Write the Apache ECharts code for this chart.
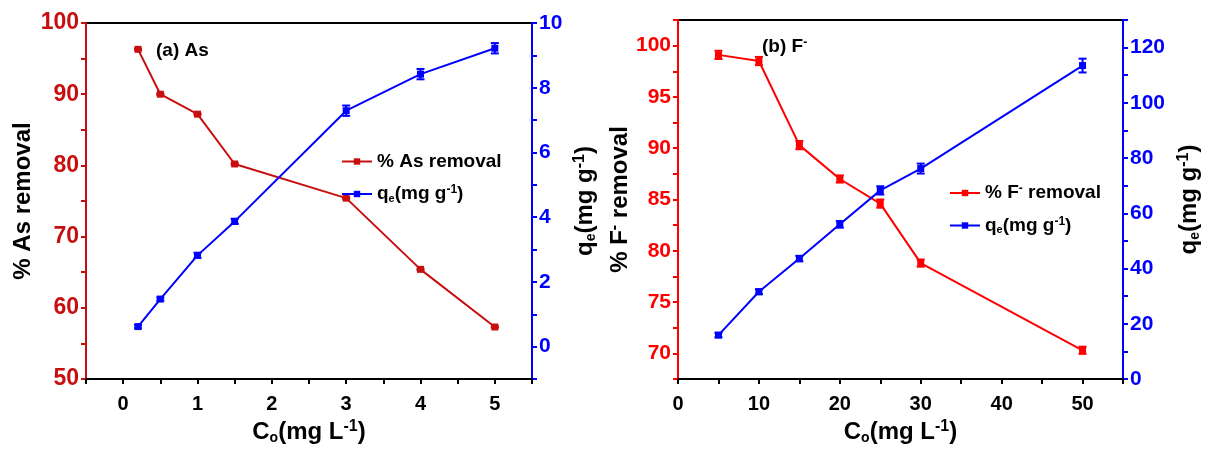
<!DOCTYPE html>
<html>
<head>
<meta charset="utf-8">
<script src="https://cdn.jsdelivr.net/npm/echarts@6/dist/echarts.min.js"></script>
<style>
html, body { margin: 0; padding: 0; background: #fff; }
#chart { width: 1210px; height: 450px; }
</style>
</head>
<body>
<div id="chart"></div>
<script>
// panel (a) As
var as_conc = [0.2, 0.5, 1, 1.5, 3, 4, 5];
var as_removal = [96.3, 90.0, 87.2, 80.2, 75.4, 65.4, 57.3];
var as_removal_err = [0.1, 0.1, 0.1, 0.1, 0.1, 0.1, 0.1];
var as_qe = [0.62, 1.47, 2.82, 3.87, 7.29, 8.42, 9.22];
var as_qe_err = [0.05, 0.05, 0.08, 0.08, 0.16, 0.16, 0.16];

// panel (b) F-
var f_conc = [5, 10, 15, 20, 25, 30, 50];
var f_removal = [99.1, 98.5, 90.3, 87.0, 84.6, 78.8, 70.3];
var f_removal_err = [0.4, 0.4, 0.4, 0.35, 0.4, 0.35, 0.35];
var f_qe = [15.9, 31.6, 43.6, 56.0, 68.3, 76.2, 113.5];
var f_qe_err = [0.8, 0.9, 1.0, 1.2, 1.5, 1.8, 2.5];

var FONT = 'Liberation Sans, Arial, sans-serif';
var DARKRED = '#c80f0f', RED = '#ff0000', BLUE = '#0000ff';

function make_rich(size){
    return {
        sub: { fontSize: Math.round(size * 0.6), fontWeight: 'bold', fontFamily: FONT, verticalAlign: 'bottom', padding: [Math.round(size * 0.4), 0, 0, 0] },
        sup: { fontSize: Math.round(size * 0.65), fontWeight: 'bold', fontFamily: FONT, verticalAlign: 'top', padding: [0, 0, Math.round(size * 0.4), 0] }
    };
}

function pairs(xs, ys){
    return xs.map(function(x, i){ return [x, ys[i]]; });
}
function triples(xs, ys, es){
    return xs.map(function(x, i){ return [x, ys[i], es[i]]; });
}
function stepLabel(step){
    return function(v){
        var r = v / step;
        return Math.abs(r - Math.round(r)) < 1e-6 ? String(Math.round(v * 100) / 100) : '';
    };
}

function line_series(name, xs, ys, xi, yi, color){
    return {
        name: name, type: 'line', xAxisIndex: xi, yAxisIndex: yi,
        data: pairs(xs, ys), symbol: 'rect', symbolSize: 7,
        lineStyle: { color: color, width: 2 }, itemStyle: { color: color },
        z: 2
    };
}
function err_series(xs, ys, es, xi, yi, color){
    return {
        type: 'custom', xAxisIndex: xi, yAxisIndex: yi, z: 3,
        data: triples(xs, ys, es), encode: { x: 0, y: 1 },
        renderItem: function(params, api){
            var x = api.value(0), y = api.value(1), e = api.value(2);
            var hi = api.coord([x, y + e]), lo = api.coord([x, y - e]);
            var w = 4, st = { stroke: color, lineWidth: 2 };
            return { type: 'group', children: [
                { type: 'line', shape: { x1: hi[0], y1: hi[1], x2: lo[0], y2: lo[1] }, style: st },
                { type: 'line', shape: { x1: hi[0] - w, y1: hi[1], x2: hi[0] + w, y2: hi[1] }, style: st },
                { type: 'line', shape: { x1: lo[0] - w, y1: lo[1], x2: lo[0] + w, y2: lo[1] }, style: st }
            ]};
        }
    };
}

function x_axis(gi, min, max, interval, step){
    return {
        type: 'value', gridIndex: gi, min: min, max: max, interval: interval,
        name: 'C{sub|o}(mg L{sup|-1})', nameLocation: 'middle', nameGap: 40,
        nameTextStyle: { fontFamily: FONT, fontWeight: 'bold', fontSize: 24, color: '#000', rich: make_rich(24) },
        axisLine: { onZero: false, lineStyle: { color: '#000', width: 2 } },
        axisTick: { show: true, length: 5, lineStyle: { color: '#000', width: 2 } },
        axisLabel: { fontFamily: FONT, fontWeight: 'bold', fontSize: 20, color: '#000', margin: 15, formatter: stepLabel(step) },
        splitLine: { show: false }
    };
}
function y_axis(gi, pos, min, max, interval, step, color, name, gap, tsize){
    return {
        type: 'value', gridIndex: gi, position: pos, min: min, max: max, interval: interval,
        name: name, nameLocation: 'middle', nameGap: gap, nameRotate: 90,
        nameTextStyle: { fontFamily: FONT, fontWeight: 'bold', fontSize: 24, color: '#000', rich: make_rich(24) },
        axisLine: { show: true, onZero: false, lineStyle: { color: color, width: 2 } },
        axisTick: { show: true, length: 5, lineStyle: { color: color, width: 2 } },
        axisLabel: { fontFamily: FONT, fontWeight: 'bold', fontSize: tsize, color: color, margin: 7, formatter: stepLabel(step) },
        splitLine: { show: false }
    };
}

var legend_names = {
    'As_rem': '% As removal',
    'As_qe': 'q{sub|e}(mg g{sup|-1})',
    'F_rem': '% F{sup|-} removal',
    'F_qe': 'q{sub|e}(mg g{sup|-1})'
};
function legend_box(names, left, top){
    return {
        data: names, orient: 'vertical', left: left, top: top,
        itemWidth: 30, itemHeight: 8, itemGap: 13,
        formatter: function(n){ return legend_names[n]; },
        textStyle: { fontFamily: FONT, fontWeight: 'bold', fontSize: 19, color: '#000', rich: make_rich(19) }
    };
}

var chart = echarts.init(document.getElementById('chart'));
chart.setOption({
    animation: false,
    backgroundColor: '#fff',
    title: [
        { text: '(a) As', left: 151, top: 36, textStyle: { fontFamily: FONT, fontWeight: 'bold', fontSize: 19, color: '#000' } },
        { text: '(b) F{sup|-}', left: 757, top: 32, textStyle: { fontFamily: FONT, fontWeight: 'bold', fontSize: 19, color: '#000', rich: make_rich(19) } }
    ],
    legend: [
        legend_box(['As_rem', 'As_qe'], 336, 147),
        legend_box(['F_rem', 'F_qe'], 944, 178)
    ],
    grid: [
        { left: 86, top: 23, right: 678, bottom: 67, show: true, borderColor: '#000', borderWidth: 2, backgroundColor: 'transparent' },
        { left: 678, top: 20, right: 87, bottom: 71, show: true, borderColor: '#000', borderWidth: 2, backgroundColor: 'transparent' }
    ],
    xAxis: [
        x_axis(0, -0.5, 5.5, 0.5, 1),
        x_axis(1, 0, 55, 5, 10)
    ],
    yAxis: [
        y_axis(0, 'left', 50, 100, 5, 10, DARKRED, '% As removal', 51, 23),
        y_axis(0, 'right', -1, 10, 1, 2, BLUE, 'q{sub|e}(mg g{sup|-1})', 40, 21),
        y_axis(1, 'left', 67.5, 102.5, 2.5, 5, RED, '% F{sup|-} removal', 43, 21),
        y_axis(1, 'right', 0, 130, 10, 20, BLUE, 'q{sub|e}(mg g{sup|-1})', 53, 21)
    ],
    series: [
        line_series('As_rem', as_conc, as_removal, 0, 0, DARKRED),
        line_series('As_qe', as_conc, as_qe, 0, 1, BLUE),
        err_series(as_conc, as_removal, as_removal_err, 0, 0, DARKRED),
        err_series(as_conc, as_qe, as_qe_err, 0, 1, BLUE),
        line_series('F_rem', f_conc, f_removal, 1, 2, RED),
        line_series('F_qe', f_conc, f_qe, 1, 3, BLUE),
        err_series(f_conc, f_removal, f_removal_err, 1, 2, RED),
        err_series(f_conc, f_qe, f_qe_err, 1, 3, BLUE)
    ]
});
</script>
</body>
</html>
